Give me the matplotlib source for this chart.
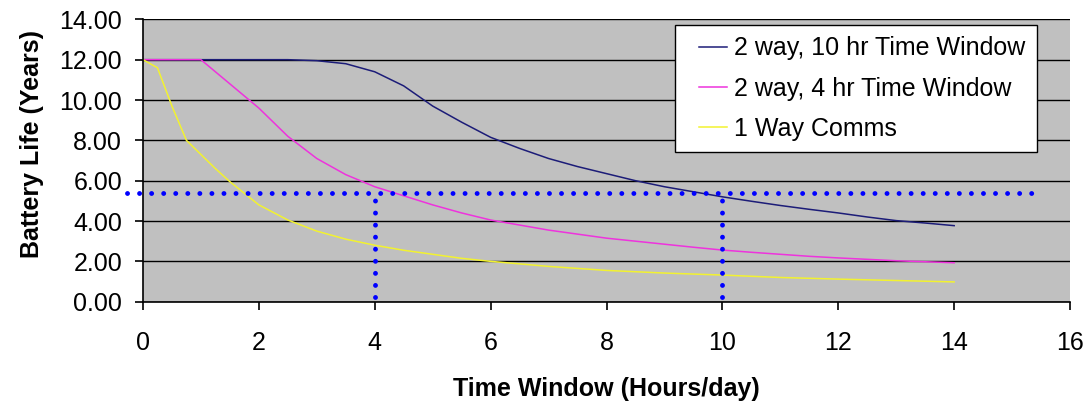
from matplotlib import pyplot as plt
from matplotlib.legend_handler import HandlerLine2D

plt.rcParams.update({"font.family": ["Liberation Sans", "DejaVu Sans"], "font.size": 18})

# 2 way, 10 hr time window
x_10hr = [0, 0.5, 1, 1.5, 2, 2.5, 3, 3.5, 4, 4.5, 5, 5.5, 6, 6.5, 7, 7.5, 8,
          8.5, 9, 9.5, 10, 10.5, 11, 11.5, 12, 12.5, 13, 13.5, 14]
y_10hr = [12, 12, 12, 12, 12, 12, 11.95, 11.8, 11.4, 10.7, 9.7, 8.9, 8.15, 7.6,
          7.1, 6.7, 6.35, 6.0, 5.7, 5.45, 5.2, 4.98, 4.77, 4.58, 4.4, 4.2, 4.02,
          3.9, 3.77]

# 2 way, 4 hr time window
x_4hr = [0, 0.5, 1, 1.5, 2, 2.5, 3, 3.5, 4, 4.5, 5, 5.5, 6, 6.5, 7, 7.5, 8,
         8.5, 9, 9.5, 10, 10.5, 11, 11.5, 12, 12.5, 13, 13.5, 14]
y_4hr = [12, 12, 12, 10.8, 9.6, 8.2, 7.1, 6.3, 5.7, 5.25, 4.8, 4.4, 4.05, 3.8,
         3.55, 3.35, 3.15, 3.0, 2.85, 2.7, 2.56, 2.45, 2.35, 2.25, 2.17, 2.1,
         2.03, 1.98, 1.93]

# 1 way comms
x_1way = [0, 0.25, 0.5, 0.75, 1, 1.25, 1.5, 2, 2.5, 3, 3.5, 4, 4.5, 5, 5.5, 6,
          7, 8, 9, 10, 11, 12, 13, 14]
y_1way = [12, 11.6, 9.7, 8.0, 7.3, 6.6, 5.95, 4.8, 4.05, 3.5, 3.1, 2.8, 2.55,
          2.35, 2.15, 2.0, 1.75, 1.55, 1.42, 1.32, 1.2, 1.12, 1.05, 0.98]

# dotted reference lines
ref_life = 5.4
ref_windows = [4, 10]
ref_x_span = [-0.28, 15.5]

fig = plt.figure(figsize=(10.88, 4.03), dpi=100)
ax = fig.add_axes([0.1314, 0.2514, 0.8521, 0.7006])
ax.set_facecolor("#c0c0c0")

ax.set_xlim(0, 16)
ax.set_ylim(0, 14)
ax.set_xticks(range(0, 17, 2))
ax.set_yticks(range(0, 15, 2))
ax.set_yticklabels([f"{v:.2f}" for v in range(0, 15, 2)])
ax.yaxis.grid(True, color="black", linewidth=1)
ax.set_axisbelow(True)
for side in ["top", "right"]:
    ax.spines[side].set_visible(False)
ax.spines["left"].set_linewidth(1.2)
ax.spines["bottom"].set_linewidth(1.2)
ax.tick_params(direction="out", length=6, width=1.2)
ax.tick_params(axis="x", pad=15)
ax.tick_params(axis="y", pad=9)

ax.plot(x_10hr, y_10hr, color="#1c1c78", linewidth=1.1, label="2 way, 10 hr Time Window")
ax.plot(x_4hr, y_4hr, color="#ee33dd", linewidth=1.1, label="2 way, 4 hr Time Window")
ax.plot(x_1way, y_1way, color="#f2f230", linewidth=1.1, label="1 Way Comms")

dots = (0, (0.01, 2.47))
ax.plot(ref_x_span, [ref_life, ref_life], color="#0000ff", linestyle=dots,
        linewidth=3.5, dash_capstyle="round", clip_on=False)
for w in ref_windows:
    ax.plot([w, w], [0.22, ref_life], color="#0000ff", linestyle=dots,
            linewidth=3.5, dash_capstyle="round")

ax.set_xlabel("Time Window (Hours/day)", fontweight="bold", labelpad=16)
ax.set_ylabel("Battery Life (Years)", fontweight="bold")
ax.yaxis.set_label_coords(-0.107, 0.557)

leg = ax.legend(loc="upper right", bbox_to_anchor=(0.9644, 0.98), borderaxespad=0,
                fancybox=False, framealpha=1, edgecolor="black",
                handlelength=1.64, handletextpad=0.28, borderpad=0.46,
                labelspacing=0.65,
                handler_map={plt.Line2D: HandlerLine2D(xpad=0.52)})
leg.get_frame().set_linewidth(1.0)

plt.savefig("out.png", dpi=100)
